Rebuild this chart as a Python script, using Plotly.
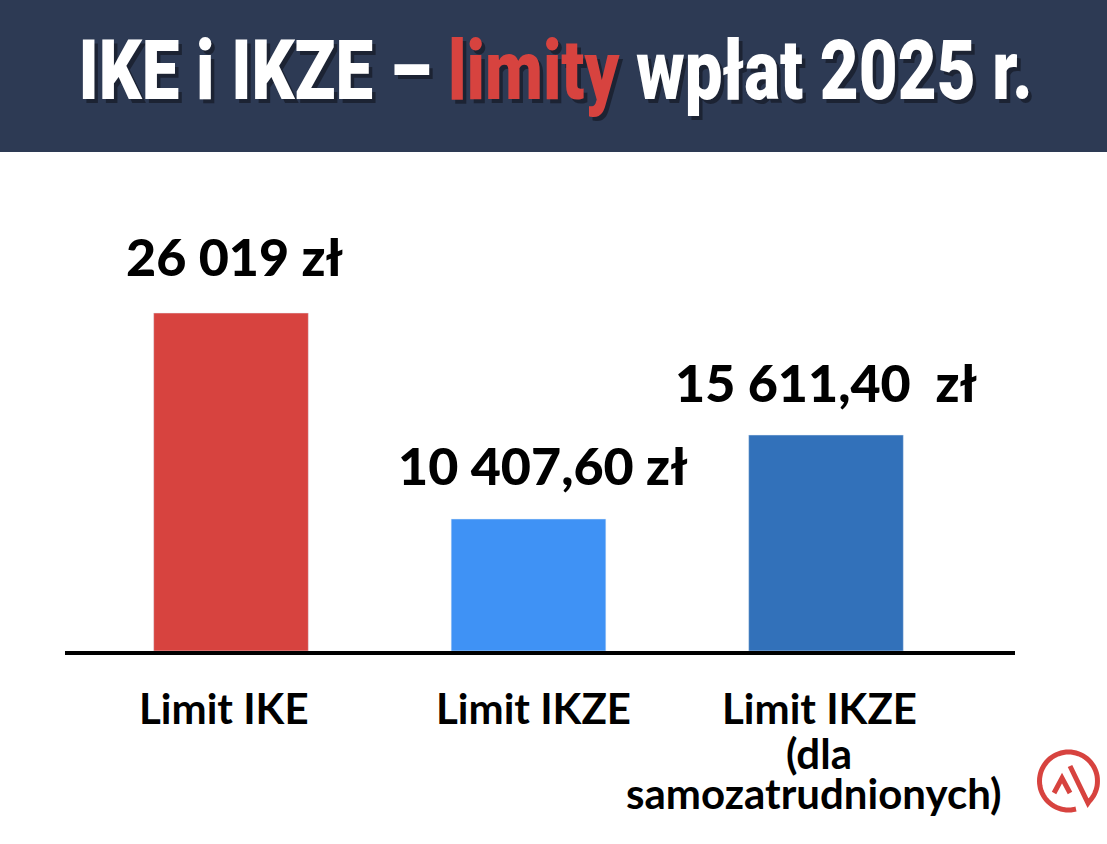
import numpy as np
import plotly.graph_objects as go

# bar heights as drawn in the picture, the original bars are not quite to scale with their labels
values = [26019, 10161, 16627]
value_labels = ["26 019 zł", "10 407,60 zł", "15 611,40  zł"]
category_lines = [["Limit IKE"], ["Limit IKZE"], ["Limit IKZE", "(dla", "samozatrudnionych)"]]
colors = ["#d7433f", "#3f92f5", "#3271ba"]

NAVY = "#2d3a54"
RED = "#d7433f"
FONT = "Lato, sans-serif"

W, H = 1107, 844
LEFT, RIGHT, TOP, BOTTOM = 65, 1015, 152, 651

def px(x):
    return (x - LEFT) / (RIGHT - LEFT)

def py(y):
    return (BOTTOM - y) / (BOTTOM - TOP)

fig = go.Figure()
fig.add_trace(go.Bar(x=[0, 1, 2], y=values, marker_color=colors, width=0.52, hoverinfo="skip"))

# title band
fig.add_shape(type="rect", xref="paper", yref="paper", x0=px(0), x1=px(W), y0=py(152), y1=py(0),
              fillcolor=NAVY, line_width=0, layer="below")

title = "IKE i IKZE – <span style='color:%s'>limity</span> wpłat 2025 r." % RED
fig.add_annotation(
    text=title, xref="paper", yref="paper", x=px(555), y=py(70),
    showarrow=False, xanchor="center", yanchor="middle",
    font=dict(family="Roboto, sans-serif", size=84, color="#ffffff", weight=900,
              shadow="4px 4px 0px #1c2333"),
)

# value labels above the bars
label_x = [234, 543, 826]
label_y = [256, 465, 382]
for text, x, y in zip(value_labels, label_x, label_y):
    fig.add_annotation(text=text, xref="paper", yref="paper", x=px(x), y=py(y), showarrow=False,
                       xanchor="center", yanchor="middle",
                       font=dict(family=FONT, size=52, color="#000000", weight=900))

# category labels below the axis, one annotation per line because of the tight line spacing
cat_x = [[224], [533], [819, 819, 814]]
line_y = [708, 753, 793]
for lines, xs in zip(category_lines, cat_x):
    for line, x, y in zip(lines, xs, line_y):
        fig.add_annotation(text=line, xref="paper", yref="paper", x=px(x), y=py(y), showarrow=False,
                           xanchor="center", yanchor="middle",
                           font=dict(family=FONT, size=42, color="#000000", weight=700))

# logo in the corner
t = np.radians(np.arange(75, 410, 5))
ring = [(1068.5 + 29 * np.cos(a), 781 + 29 * np.sin(a)) for a in t]
ring_path = "M" + " L".join("%.4f,%.4f" % (px(a), py(b)) for a, b in ring)
ring_path += " L%.4f,%.4f L%.4f,%.4f" % (px(1088), py(803), px(1070), py(766))
fig.add_shape(type="path", xref="paper", yref="paper", path=ring_path, line=dict(color=RED, width=5))
caret = "M%.4f,%.4f L%.4f,%.4f L%.4f,%.4f" % (px(1054), py(793), px(1062), py(778), px(1070), py(793))
fig.add_shape(type="path", xref="paper", yref="paper", path=caret, line=dict(color=RED, width=5))

fig.update_layout(
    width=W, height=H, autosize=False, showlegend=False,
    paper_bgcolor="#ffffff", plot_bgcolor="#ffffff",
    margin=dict(l=LEFT, r=W - RIGHT, t=TOP, b=H - BOTTOM, pad=0),
    font=dict(family=FONT, color="#000000"),
    xaxis=dict(range=[(LEFT - 231) / 297.5, (RIGHT - 231) / 297.5], showline=True, linecolor="#000000",
               linewidth=4, ticks="", showticklabels=False, showgrid=False, zeroline=False),
    yaxis=dict(visible=False, range=[0, 26019 * (BOTTOM - TOP) / (BOTTOM - 313)]),
)

# drop the page margin and squeeze the title, no condensed font is installed
post = """
document.body.style.margin = '0';
document.querySelectorAll('.annotation-text').forEach(function (t) {
    if (t.textContent.indexOf('limity') < 0) return;
    var b = t.getBBox();
    var cx = b.x + b.width / 2;
    t.setAttribute('transform', 'translate(' + cx + ' 0) scale(0.8 1) translate(' + (-cx) + ' 0)');
});
"""
fig.write_html("out.html", post_script=post, config={"displayModeBar": False})
